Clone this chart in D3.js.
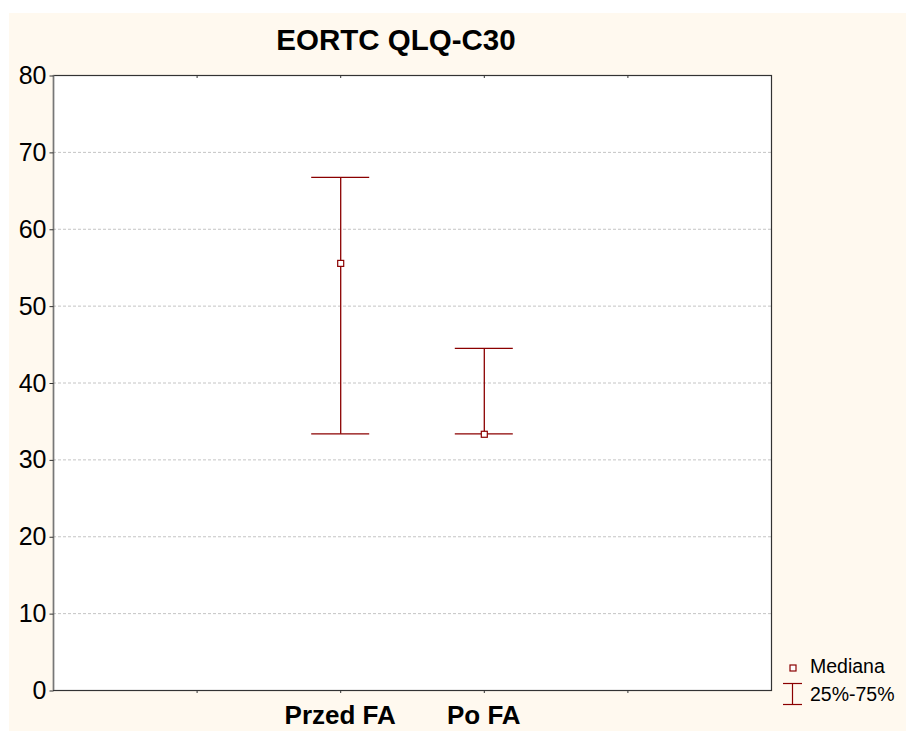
<!DOCTYPE html>
<html>
<head>
<meta charset="utf-8">
<script src="https://cdn.jsdelivr.net/npm/d3@7"></script>
<style>
  body { margin: 0; background: #fff; }
  text { font-family: Arial, "Liberation Sans", sans-serif; }
</style>
</head>
<body>
<div id="chart-area"></div>
<script>
// data
var categories = ["Przed FA", "Po FA"];
var medians = [55.56, 33.33];
var q25 = [33.33, 33.33];
var q75 = [66.67, 44.44];
var yTicks = [0, 10, 20, 30, 40, 50, 60, 70, 80];
var title = "EORTC QLQ-C30";
var legendLabels = ["Mediana", "25%-75%"];

var width = 906,
    height = 731,
    color = "#8b0000";

var margin = {left: 53, top: 75, right: 771, bottom: 690};

var svg = d3.select("#chart-area")
    .append("svg")
    .attr("width", width)
    .attr("height", height);

// cream background
svg.append("rect")
    .attr("x", 9).attr("y", 13)
    .attr("width", width - 9).attr("height", height - 13)
    .attr("fill", "#fff9ef");

// plot area
svg.append("rect")
    .attr("x", margin.left).attr("y", margin.top)
    .attr("width", margin.right - margin.left)
    .attr("height", margin.bottom - margin.top)
    .attr("fill", "#fff");

// x is a linear index scale, categories sit on 1 and 2
var x = d3.scaleLinear()
    .domain([-1, 4])
    .range([margin.left, margin.right]);

var y = d3.scaleLinear()
    .domain([0, 80])
    .range([margin.bottom, margin.top]);

// gridlines
svg.append("g")
    .selectAll("line")
    .data(yTicks.filter(function(d) { return d > 0 && d < 80; }))
    .enter().append("line")
    .attr("x1", margin.left).attr("x2", margin.right)
    .attr("y1", function(d) { return y(d) + 0.5; })
    .attr("y2", function(d) { return y(d) + 0.5; })
    .attr("stroke", "#c4c4c4")
    .attr("stroke-dasharray", "3,2");

// frame
svg.append("rect")
    .attr("x", margin.left + 0.5).attr("y", margin.top + 0.5)
    .attr("width", margin.right - margin.left)
    .attr("height", margin.bottom - margin.top)
    .attr("fill", "none")
    .attr("stroke", "#333")
    .attr("stroke-width", 1.2);

svg.append("line")
    .attr("x1", margin.left + 0.5).attr("x2", margin.left + 0.5)
    .attr("y1", margin.top).attr("y2", margin.bottom)
    .attr("stroke", "#777").attr("stroke-width", 1.5);

// y axis
var yAxis = d3.axisLeft(y)
    .tickValues(yTicks)
    .tickSize(4)
    .tickPadding(3);

var gy = svg.append("g")
    .attr("transform", "translate(" + (margin.left + 0.5) + ",0.5)")
    .call(yAxis);
gy.select(".domain").remove();
gy.selectAll(".tick line").attr("stroke", "#333");
gy.selectAll(".tick text")
    .attr("font-size", 25)
    .attr("fill", "#000")
    .style("font-family", "Arial, 'Liberation Sans', sans-serif");

// x ticks (bottom and top, small)
var xTickVals = [0, 1, 2, 3];
svg.append("g").selectAll("line")
    .data(xTickVals).enter().append("line")
    .attr("x1", function(d) { return x(d) + 0.5; })
    .attr("x2", function(d) { return x(d) + 0.5; })
    .attr("y1", margin.bottom).attr("y2", margin.bottom + 3)
    .attr("stroke", "#333");
svg.append("g").selectAll("line")
    .data(xTickVals).enter().append("line")
    .attr("x1", function(d) { return x(d) + 0.5; })
    .attr("x2", function(d) { return x(d) + 0.5; })
    .attr("y1", margin.top).attr("y2", margin.top + 3)
    .attr("stroke", "#333");

// x labels
svg.append("g").selectAll("text")
    .data(categories).enter().append("text")
    .attr("x", function(d, i) { return x(i + 1); })
    .attr("y", 724)
    .attr("text-anchor", "middle")
    .attr("font-size", 26)
    .attr("font-weight", "bold")
    .text(function(d) { return d; });

// title
svg.append("text")
    .attr("x", 396).attr("y", 50)
    .attr("text-anchor", "middle")
    .attr("font-size", 29.5)
    .attr("font-weight", "bold")
    .text(title);

// whiskers
var cap = 29;
var bars = svg.append("g").selectAll("g")
    .data(categories).enter().append("g");

bars.append("line")
    .attr("x1", function(d, i) { return x(i + 1) + 0.5; })
    .attr("x2", function(d, i) { return x(i + 1) + 0.5; })
    .attr("y1", function(d, i) { return y(q75[i]); })
    .attr("y2", function(d, i) { return y(q25[i]); })
    .attr("stroke", color).attr("stroke-width", 1.3);

bars.append("line")
    .attr("x1", function(d, i) { return x(i + 1) - cap; })
    .attr("x2", function(d, i) { return x(i + 1) + cap; })
    .attr("y1", function(d, i) { return y(q75[i]); })
    .attr("y2", function(d, i) { return y(q75[i]); })
    .attr("stroke", color).attr("stroke-width", 1.3);

bars.append("line")
    .attr("x1", function(d, i) { return x(i + 1) - cap; })
    .attr("x2", function(d, i) { return x(i + 1) + cap; })
    .attr("y1", function(d, i) { return y(q25[i]); })
    .attr("y2", function(d, i) { return y(q25[i]); })
    .attr("stroke", color).attr("stroke-width", 1.3);

// median markers
bars.append("rect")
    .attr("x", function(d, i) { return x(i + 1) - 2.5; })
    .attr("y", function(d, i) { return y(medians[i]) - 2.5; })
    .attr("width", 6).attr("height", 6)
    .attr("fill", "#fff")
    .attr("stroke", color).attr("stroke-width", 1.2);

// legend
var legend = svg.append("g");
legend.append("rect")
    .attr("x", 790).attr("y", 665)
    .attr("width", 6).attr("height", 6)
    .attr("fill", "#fff")
    .attr("stroke", color).attr("stroke-width", 1.2);
legend.append("text")
    .attr("x", 810).attr("y", 673)
    .attr("font-size", 19.5)
    .text(legendLabels[0]);

legend.append("line")
    .attr("x1", 792.5).attr("x2", 792.5)
    .attr("y1", 683).attr("y2", 704)
    .attr("stroke", color).attr("stroke-width", 1.2);
legend.append("line")
    .attr("x1", 783).attr("x2", 802)
    .attr("y1", 683.5).attr("y2", 683.5)
    .attr("stroke", color).attr("stroke-width", 1.2);
legend.append("line")
    .attr("x1", 783).attr("x2", 802)
    .attr("y1", 704.5).attr("y2", 704.5)
    .attr("stroke", color).attr("stroke-width", 1.2);
legend.append("text")
    .attr("x", 810).attr("y", 701)
    .attr("font-size", 19.5)
    .text(legendLabels[1]);
</script>
</body>
</html>
